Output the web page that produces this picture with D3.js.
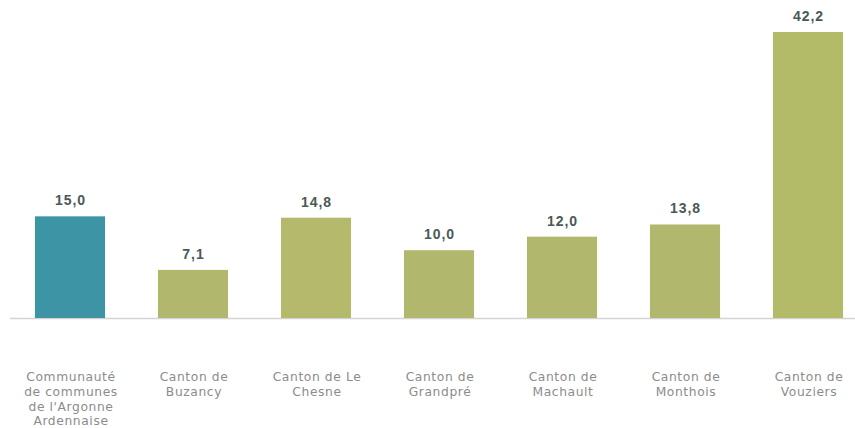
<!DOCTYPE html>
<html>
<head>
<meta charset="utf-8">
<script src="https://cdn.jsdelivr.net/npm/d3@7"></script>
<style>
  html, body { margin: 0; padding: 0; background: #fff; }
  svg { display: block; }
</style>
</head>
<body>
<svg id="chart" width="855" height="428"></svg>
<script>
// Territories and their values
const categories = [
  ["Communauté", "de communes", "de l'Argonne", "Ardennaise"],
  ["Canton de", "Buzancy"],
  ["Canton de Le", "Chesne"],
  ["Canton de", "Grandpré"],
  ["Canton de", "Machault"],
  ["Canton de", "Monthois"],
  ["Canton de", "Vouziers"]
];
const values = [15.0, 7.1, 14.8, 10.0, 12.0, 13.8, 42.2];
const barColors = ["#3c94a5", "#b1b86d", "#b4b96b", "#b1b86d", "#b1b86d", "#b1b86d", "#b3ba68"];

const svg = d3.select("#chart");
const baseY = 318;
const topY = 32;

const x = d3.scaleBand()
  .domain(d3.range(values.length))
  .range([8.5, 869.5])
  .paddingInner(0.43)
  .paddingOuter(0.215);

const y = d3.scaleLinear()
  .domain([0, 42.2])
  .range([baseY, topY]);

const fmt = v => d3.format(".1f")(v).replace(".", ",");

// Baseline
svg.append("line")
  .attr("x1", 10).attr("x2", 855)
  .attr("y1", baseY + 0.5).attr("y2", baseY + 0.5)
  .attr("stroke", "#d4d4d4").attr("stroke-width", 1.5);

// Bars
svg.selectAll("rect.bar")
  .data(values)
  .join("rect")
  .attr("class", "bar")
  .attr("x", (d, i) => x(i))
  .attr("y", d => y(d))
  .attr("width", x.bandwidth())
  .attr("height", d => y(0) - y(d))
  .attr("fill", (d, i) => barColors[i]);

// Value labels
svg.selectAll("text.val")
  .data(values)
  .join("text")
  .attr("class", "val")
  .attr("x", (d, i) => x(i) + x.bandwidth() / 2 + 0.5)
  .attr("y", d => y(d) - 11)
  .attr("text-anchor", "middle")
  .attr("font-family", "Liberation Sans, Arial, sans-serif")
  .attr("font-weight", "bold")
  .attr("font-size", 14)
  .attr("letter-spacing", 1)
  .attr("fill", "#4b5858")
  .text(fmt);

// Category labels
const cat = svg.selectAll("text.cat")
  .data(categories)
  .join("text")
  .attr("class", "cat")
  .attr("text-anchor", "middle")
  .attr("font-family", "DejaVu Sans, sans-serif")
  .attr("font-size", 12.3)
  .attr("letter-spacing", 0.6)
  .attr("fill", "#8c8c8c");

cat.each(function(lines, i) {
  d3.select(this).selectAll("tspan")
    .data(lines)
    .join("tspan")
    .attr("x", x(i) + x.bandwidth() / 2 + 1)
    .attr("y", (l, k) => 381 + k * 14.8)
    .text(l => l);
});
</script>
</body>
</html>
